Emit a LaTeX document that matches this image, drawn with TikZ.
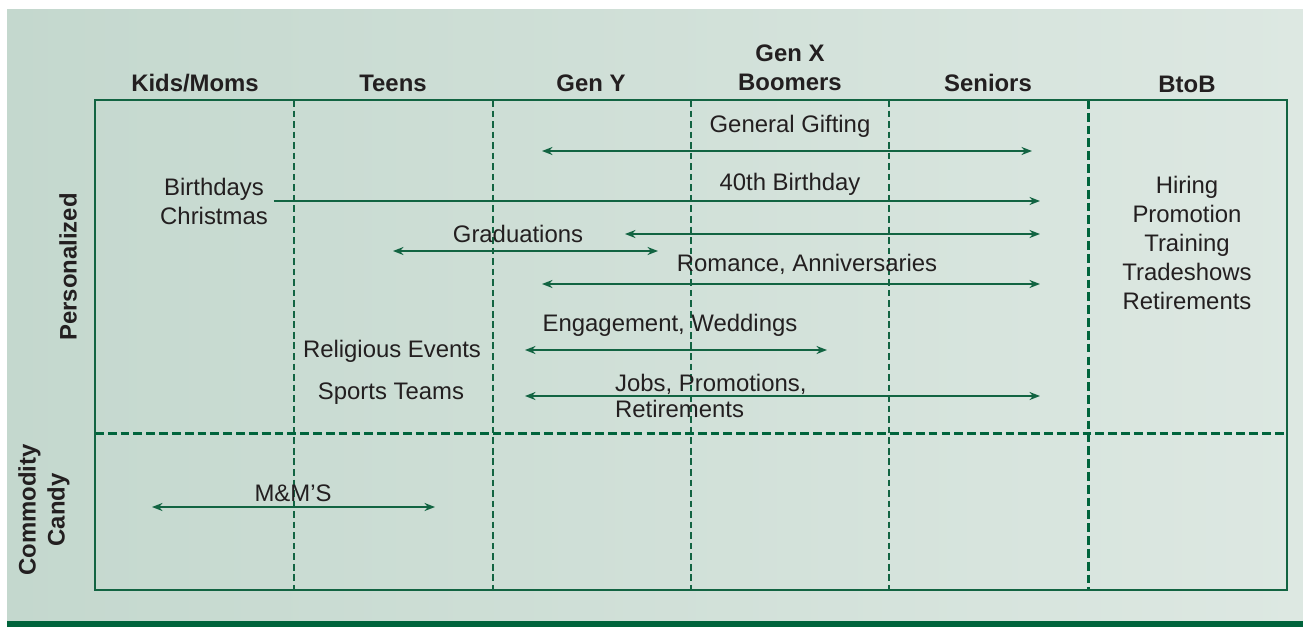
\documentclass[tikz,border=0pt]{standalone}
\usepackage{fontspec}
\setmainfont{Liberation Sans}
\usetikzlibrary{arrows.meta}

\definecolor{bgleft}{RGB}{196,216,206}
\definecolor{bgright}{RGB}{221,232,226}
\definecolor{rule}{RGB}{18,100,66}
\definecolor{bar}{RGB}{0,100,60}
\definecolor{ink}{RGB}{35,31,32}

\begin{document}
\begin{tikzpicture}[x=0.02cm,y=-0.02cm,
  every node/.style={font=\fontsize{13.6}{16.5}\selectfont, text=ink},
  head/.style={font=\fontsize{13.6}{16.5}\selectfont\bfseries},
  thin dash/.style={draw=rule, line width=0.65pt, dash pattern=on 3.8pt off 2.2pt},
  thick dash/.style={draw=bar, line width=1.7pt, dash pattern=on 5pt off 2.3pt},
  both/.style={draw=rule, line width=0.75pt, {Stealth[length=6pt,width=4.6pt]}-{Stealth[length=6pt,width=4.6pt]}},
  right/.style={draw=rule, line width=0.75pt, -{Stealth[length=6pt,width=4.6pt]}}]
\useasboundingbox (0,0) rectangle (1303,627);

% panel and base line
\shade[left color=bgleft, right color=bgright] (7,9) rectangle (1303,622);
\fill[bar] (7,621) rectangle (1303,627);

% grid
\draw[thin dash] (294,100) -- (294,590);
\draw[thin dash] (493,100) -- (493,590);
\draw[thin dash] (691,100) -- (691,590);
\draw[thin dash] (889,100) -- (889,590);
\draw[thick dash] (1088,100) -- (1088,590);
\draw[thick dash] (95,433) -- (1287,433);
\draw[rule, line width=0.9pt] (95,100) rectangle (1287,590);

% column heads
\node[head] (kids) at (195,83) {Kids/Moms};
\node[head] (teens) at (393,83) {Teens};
\node[head] (geny) at (591,83) {Gen Y};
\node[head, align=center] (genx) at (790,68) {Gen X\\Boomers};
\node[head] (seniors) at (988,83) {Seniors};
\node[head] (btob) at (1187,84) {BtoB};

% row heads
\node[head, rotate=90] (pers) at (68,267) {Personalized};
\node[head, rotate=90, align=center] (candy) at (44,510) {Commodity\\Candy};

% events
\node (gift) at (790,126) {General Gifting};
\node (forty) at (790,184) {40th Birthday};
\node[align=center] (bday) at (214,201) {Birthdays\\Christmas};
\node (grad) at (518,234) {Graduations};
\node (rom) at (807,264) {Romance, Anniversaries};
\node (eng) at (670,325) {Engagement, Weddings};
\node (relig) at (392,351) {Religious Events};
\node (sport) at (391,394) {Sports Teams};
\node[anchor=west, align=left, font=\fontsize{13.6}{14.8}\selectfont] (jobs) at (609,396) {Jobs, Promotions,\\Retirements};
\node[align=center, font=\fontsize{13.6}{16.6}\selectfont] (biz) at (1187,243) {Hiring\\Promotion\\Training\\Tradeshows\\Retirements};
\node (mm) at (293,493) {M\&M’S};

% arrow ends
\coordinate (giftL) at (542,151);
\coordinate (giftR) at (1032,151);
\coordinate (fortyR) at (1040,201);
\coordinate (gradL) at (393,251);
\coordinate (gradR) at (658,251);
\coordinate (gradL2) at (625,234);
\coordinate (gradR2) at (1040,234);
\coordinate (romL) at (542,284);
\coordinate (romR) at (1040,284);
\coordinate (engL) at (525,350);
\coordinate (engR) at (827,350);
\coordinate (jobsL) at (525,396);
\coordinate (jobsR) at (1040,396);
\coordinate (mmL) at (152,507);
\coordinate (mmR) at (435,507);

\draw[both] (giftL) -- (giftR);
\draw[right] (bday.east) -- (fortyR);
\draw[both] (gradL2) -- (gradR2);
\draw[both] (gradL) -- (gradR);
\draw[both] (romL) -- (romR);
\draw[both] (engL) -- (engR);
\draw[both] (jobsL) -- (jobsR);
\draw[both] (mmL) -- (mmR);
\end{tikzpicture}
\end{document}
